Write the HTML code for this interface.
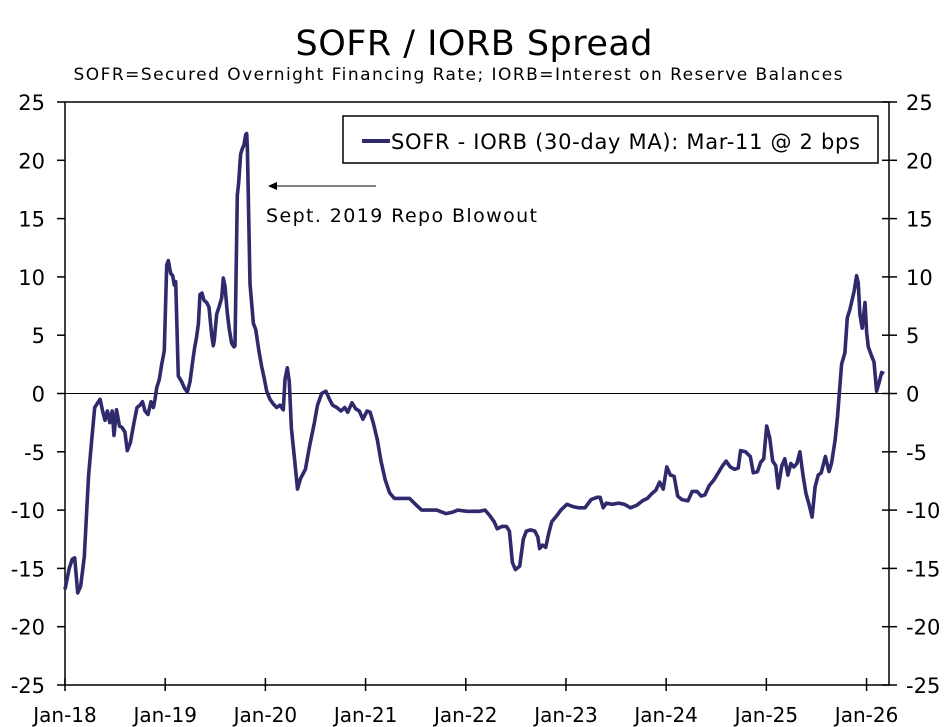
<!DOCTYPE html>
<html><head><meta charset="utf-8">
<style>
html,body{margin:0;padding:0;background:#fff;}
svg{display:block;font-family:"DejaVu Sans","Liberation Sans",sans-serif;}
</style></head>
<body>
<svg id="chart" width="949" height="727" viewBox="0 0 949 727">
<text x="474" y="55" font-size="35" text-anchor="middle" textLength="357" fill="#000">SOFR / IORB Spread</text>
<text x="458" y="80" font-size="17" text-anchor="middle" textLength="769" fill="#000">SOFR=Secured Overnight Financing Rate; IORB=Interest on Reserve Balances</text>
<g id="axes"></g>
<g id="series"></g>
<g>
<rect x="343" y="116" width="535" height="47" fill="#fff" stroke="#000" stroke-width="1.5"/>
<line x1="362" y1="141" x2="390" y2="141" stroke="#2e2a6b" stroke-width="4"/>
<text x="391" y="149" font-size="21" textLength="469" fill="#000">SOFR - IORB (30-day MA): Mar-11 @ 2 bps</text>
</g>
<g>
<line x1="376" y1="186" x2="274" y2="186" stroke="#000" stroke-width="1"/>
<polygon points="268,186 277,182 277,190" fill="#000"/>
<text x="266" y="222" font-size="19" textLength="271" fill="#000">Sept. 2019 Repo Blowout</text>
</g>
</svg>
<script>
const yTicks = [25,20,15,10,5,0,-5,-10,-15,-20,-25];
const xTickYears = [0,1,2,3,4,5,6,7,8];
const xTickLabels = ["Jan-18","Jan-19","Jan-20","Jan-21","Jan-22","Jan-23","Jan-24","Jan-25","Jan-26"];
const yearOffsets = [0,.042,.073,.097,.127,.157,.193,.236,.266,.296,.326,.350,.375,.399,.423,.447,.471,.489,.514,.544,.568,.598,.622,.653,.689,.719,.749,.773,.798,.828,.858,
.882,.898,.915,.941,.965,.981,.991,1.015,1.031,1.055,1.075,1.091,1.105,1.131,1.165,1.191,1.221,1.248,1.274,1.291,1.314,1.331,1.347,1.367,1.387,1.414,1.437,1.464,1.480,1.490,1.514,1.540,1.564,1.580,1.597,1.620,1.640,1.664,1.687,1.697,1.720,1.733,1.753,1.770,1.786,1.803,1.813,1.820,1.846,1.880,1.903,1.936,1.963,1.986,2.013,2.046,2.079,2.113,2.146,2.179,2.196,2.219,2.239,
2.260,2.290,2.320,2.350,2.399,2.441,2.489,2.520,2.562,2.604,2.640,2.671,2.713,2.755,2.792,2.822,2.864,2.900,2.937,2.973,3.015,3.045,3.076,3.118,3.154,3.196,3.239,3.287,3.347,3.438,3.498,3.559,3.710,3.801,3.861,3.921,4.012,4.133,4.193,4.242,4.284,4.314,4.363,4.405,4.435,4.465,4.495,4.538,4.574,4.604,4.647,4.689,4.719,4.737,4.767,4.798,4.828,4.858,4.906,4.949,5.009,5.069,5.130,5.190,5.251,5.311,5.341,5.372,5.402,5.462,5.523,5.583,5.644,5.704,5.764,5.813,5.855,5.897,5.934,5.970,6.006,6.042,6.079,6.115,6.157,6.218,6.260,6.308,6.350,6.387,6.429,6.477,6.520,6.562,6.598,6.640,6.683,6.719,6.743,6.792,6.840,6.870,6.912,6.943,6.973,7.003,7.033,7.063,7.094,7.118,7.154,7.184,7.215,7.245,7.275,7.305,7.335,7.366,7.396,7.426,7.456,7.486,7.517,7.547,7.589,7.625,7.650,7.686,7.710,
7.728,7.751,7.784,7.808,7.834,7.861,7.877,7.901,7.917,7.934,7.957,7.984,8.001,8.017,8.051,8.074,8.100,8.127,8.150,8.174];
const spreadValues = [-16.8,-15,-14.2,-14.1,-17.1,-16.5,-14,-7,-4,-1.2,-0.8,-0.5,-1.5,-2.3,-1.5,-2.5,-1.5,-3.6,-1.4,-2.8,-2.9,-3.3,-4.9,-4.2,-2.5,-1.2,-1.0,-0.7,-1.5,-1.8,-0.7,
-1.2,-0.5,0.5,1.2,2.5,3.2,3.7,11,11.4,10.3,10.1,9.3,9.6,1.5,1.0,0.5,0.1,1,2.7,3.8,4.9,6,8.5,8.6,8,7.8,7.4,5,4.1,4.6,6.8,7.5,8.2,9.9,9.2,6.9,5.5,4.3,4.0,4.1,17,18,20.5,21,21.3,22.2,22.3,21,9.4,6.0,5.5,3.6,2.3,1.4,0.2,-0.5,-0.9,-1.2,-1.0,-1.4,1.2,2.2,1.0,
-3,-5.5,-8.2,-7.3,-6.5,-4.5,-2.5,-1,0,0.2,-0.5,-1,-1.2,-1.5,-1.2,-1.6,-0.8,-1.3,-1.5,-2.2,-1.5,-1.6,-2.5,-4,-5.8,-7.4,-8.5,-9,-9,-9,-9.5,-10,-10,-10.3,-10.2,-10,-10.1,-10.1,-10,-10.5,-11,-11.6,-11.4,-11.4,-11.8,-14.5,-15.1,-14.8,-12.5,-11.8,-11.7,-11.8,-12.3,-13.3,-13,-13.2,-12,-11,-10.5,-10,-9.5,-9.7,-9.8,-9.8,-9.1,-8.9,-8.9,-9.8,-9.4,-9.5,-9.4,-9.5,-9.8,-9.6,-9.2,-9.0,-8.6,-8.3,-7.6,-8.2,-6.3,-7,-7.1,-8.8,-9.1,-9.2,-8.4,-8.4,-8.8,-8.7,-7.9,-7.4,-6.8,-6.2,-5.8,-6.3,-6.5,-6.4,-4.9,-5,-5.4,-6.8,-6.7,-5.9,-5.6,-2.8,-3.8,-5.8,-6.2,-8.1,-6.2,-5.6,-7,-6,-6.3,-6.0,-5,-7,-8.6,-9.5,-10.6,-8,-7,-6.8,-5.4,-6.7,-6,-4,-2,
0,2.5,3.5,6.5,7.2,8.2,8.8,10.1,9.5,6.8,5.6,7.8,5.2,4.0,3.2,2.7,0.2,1,1.8,1.7];

const NS="http://www.w3.org/2000/svg";
const L=65,R=889,T=102,B=685;
const yMin=-25,yMax=25,xMin=0,xMax=8.224;
function xScale(v){return L+(v-xMin)/(xMax-xMin)*(R-L);}
function yScale(v){return B-(v-yMin)/(yMax-yMin)*(B-T);}
function mk(tag,attrs,parent){const e=document.createElementNS(NS,tag);for(const k in attrs)e.setAttribute(k,attrs[k]);parent.appendChild(e);return e;}
const axes=document.getElementById('axes');
let e;
e=mk('rect',{x:L,y:T,width:R-L,height:B-T,fill:'none',stroke:'#000','stroke-width':1.5},axes);


e=mk('line',{x1:L,x2:R,y1:yScale(0),y2:yScale(0),stroke:'#000','stroke-width':1},axes);


yTicks.forEach(v=>{
  const y=yScale(v);
  let t=mk('line',{x1:L-8,x2:L,y1:y,y2:y,stroke:'#000','stroke-width':1.5},axes);
  
  
  t=mk('line',{x1:R-7,x2:R+8,y1:y,y2:y,stroke:'#000','stroke-width':1.5},axes);
  
  
  let lb=mk('text',{x:45,y:y+8,'font-size':21,'text-anchor':'end',fill:'#000'},axes);
  lb.textContent=v;
  
  
  lb=mk('text',{x:906,y:y+8,'font-size':21,'text-anchor':'start',fill:'#000'},axes);
  lb.textContent=v;
  
  
});
xTickYears.forEach((v,i)=>{
  const x=xScale(v);
  let t=mk('line',{x1:x,x2:x,y1:B-7,y2:B+6,stroke:'#000','stroke-width':1.5},axes);
  
  
  let lb=mk('text',{x:x,y:722,'font-size':20,'text-anchor':'middle',fill:'#000'},axes);
  lb.textContent=xTickLabels[i];
  
  
});
const pts=yearOffsets.map((d,i)=>xScale(d).toFixed(1)+','+yScale(spreadValues[i]).toFixed(1)).join(' ');
const line=mk('polyline',{points:pts,fill:'none',stroke:'#2e2a6b','stroke-width':3.6,'stroke-linejoin':'round'},document.getElementById('series'));


</script>
</body></html>
